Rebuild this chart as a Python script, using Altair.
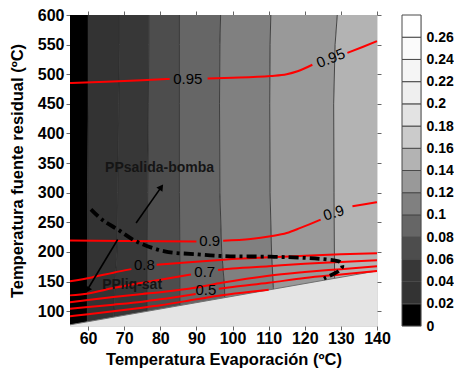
import math
import altair as alt
import pandas as pd

FONT = "Liberation Sans"
W, H = 307, 311
T_MIN, T_MAX = 55, 140
V_MIN, V_MAX = 75, 600

x_tick_values = [60, 70, 80, 90, 100, 110, 120, 130, 140]
y_tick_values = [100, 150, 200, 250, 300, 350, 400, 450, 500, 550, 600]

# ---- filled contour bands (boundary Tevap at each source-temperature level)
bound_levels = [75, 140, 200, 300, 450, 550, 600]
b1 = [59.8, 59.8, 59.9, 59.9, 60.0, 60.0, 60.0]
b2 = [67.0, 67.4, 68.0, 68.2, 68.5, 68.7, 68.7]
b3 = [76.4, 76.4, 76.4, 76.5, 76.7, 76.8, 76.8]
b4 = [85.4, 85.4, 85.4, 85.3, 85.3, 85.3, 85.3]
b5 = [97.9, 97.8, 97.0, 96.5, 96.4, 96.5, 96.7]
b6 = [111.4, 111.3, 110.8, 110.4, 110.3, 110.4, 110.6]
b7 = [128.3, 128.3, 128.2, 128.1, 128.0, 128.4, 129.0]
band_colors = ["#000000", "#333333", "#373737", "#4d4d4d", "#666666",
               "#808080", "#999999", "#b3b3b3"]

# ---- colorbar
cbar_edges = [0, 0.02, 0.04, 0.06, 0.08, 0.1, 0.12, 0.14, 0.16, 0.18,
              0.2, 0.22, 0.24, 0.26, 0.28]
cbar_labels = [0, 0.02, 0.04, 0.06, 0.08, 0.1, 0.12, 0.14, 0.16, 0.18,
               0.2, 0.22, 0.24, 0.26]
cbar_colors = ["#000000", "#333333", "#373737", "#4d4d4d", "#666666",
               "#808080", "#999999", "#b3b3b3", "#cbcbcb", "#e3e3e3",
               "#efefef", "#f5f5f5", "#fbfbfb", "#ffffff"]

# ---- infeasible (hatched) region boundary
hatch_T = [55, 140]
hatch_V = [77, 168]

# ---- efficiency iso-lines (segments separated where labels sit)
eff_lines = {
    "0.95": ([[55, 65, 75, 82.6], [93.1, 100, 110.5, 115, 118, 122.1], [131.8, 136, 140]],
             [[485, 487.5, 490, 492], [493, 494, 497, 500, 505, 516], [536, 546, 556]]),
    "0.9": ([[55, 70, 90], [97.4, 105, 110.5, 115, 118.8, 124.4], [133.2, 137, 140]],
            [[219.3, 218.5, 217.5], [219, 222, 226.6, 232, 240.6, 254.7], [277, 281, 284]]),
    "0.8": ([[55, 61, 67, 72], [79, 88, 97.5, 110, 120, 130, 140]],
            [[150.6, 157, 165, 171], [178.5, 182.7, 187, 191, 193.5, 196, 198]]),
    "0.7": ([[55, 60, 67, 75, 80, 88.5], [96, 100, 110, 120, 130, 140]],
            [[126.7, 130, 139, 148, 153, 162], [169.5, 172, 176, 180, 183, 186]]),
    "0.6": ([[55, 60, 67, 75, 80, 90, 97, 110, 120, 130, 140]],
            [[115.2, 119, 124, 129, 132, 140, 148, 160, 166, 171, 176]]),
    "0.5": ([[55, 60, 67, 75, 80, 89.8], [96.2, 100, 110, 120, 130, 140]],
            [[104, 107, 111, 116, 120, 129], [138, 141, 148, 156, 162, 168]]),
    "0.4": ([[55, 60, 67, 75, 80, 90, 97, 105, 110]],
            [[91.6, 95, 100, 106, 110, 120, 127, 133, 136]]),
}

# ---- pinch-point boundary (dash-dot)
pp_T = [60.8, 64, 68.2, 73.3, 81.2, 90.5, 97.5, 110.5, 120, 124.4, 128, 129.8, 130.4, 129.8, 128, 125.3]
pp_V = [272, 254, 238, 218, 201, 196, 193, 192, 190, 188.3, 186, 183, 176, 170, 163, 155]

# ---- arrows (start T, start V, end T, end V)
arrows = [("salida", 73.3, 249, 80.9, 315), ("liq", 68.2, 221, 59.2, 130)]

# ---- text labels
contour_label_text = ["0.95", "0.95", "0.9", "0.9", "0.8", "0.7", "0.5"]
contour_label_T = [87.6, 127.2, 93.7, 128.0, 75.6, 92.3, 92.6]
contour_label_V = [492, 527, 218, 266, 178, 166, 135]
contour_label_angle = [0, 338, 0, 342, 0, 0, 0]

annot_text = ["PPsalida-bomba", "PPliq-sat"]
annot_T = [79.8, 72.2]
annot_V = [341, 144]

# ================= build tables =================
xs = alt.Scale(domain=[T_MIN, T_MAX], nice=False, zero=False)
ys = alt.Scale(domain=[V_MIN, V_MAX], nice=False, zero=False)
sx = W / (T_MAX - T_MIN)
sy = H / (V_MAX - V_MIN)

bounds_all = [b1, b2, b3, b4, b5, b6, b7]
band_rows = []
for i in range(8):
    left = [T_MIN] * len(bound_levels) if i == 0 else bounds_all[i - 1]
    right = [T_MAX] * len(bound_levels) if i == 7 else bounds_all[i]
    for v, l, r in zip(bound_levels, left, right):
        band_rows.append({"band": f"b{i}", "V": v, "xl": l, "xr": r})
band_df = pd.DataFrame(band_rows)

bline_rows = []
for k, b in enumerate(bounds_all):
    for j, (v, t) in enumerate(zip(bound_levels, b)):
        bline_rows.append({"bid": k, "V": v, "T": t, "o": j})
bline_df = pd.DataFrame(bline_rows)

hatch_df = pd.DataFrame({"T": hatch_T, "V": hatch_V, "V0": [V_MIN, V_MIN]})

red_rows = []
for lev, (Ts, Vs) in eff_lines.items():
    for s, (tt, vv) in enumerate(zip(Ts, Vs)):
        for j, (t, v) in enumerate(zip(tt, vv)):
            red_rows.append({"seg": f"{lev}-{s}", "T": t, "V": v, "o": j})
red_df = pd.DataFrame(red_rows)

pp_df = pd.DataFrame({"T": pp_T, "V": pp_V, "o": list(range(len(pp_T)))})

arrow_rows, head_rows = [], []
for name, t0, v0, t1, v1 in arrows:
    dxp = (t1 - t0) * sx
    dyp = -(v1 - v0) * sy
    L = math.hypot(dxp, dyp)
    ux, uy = dxp / L, dyp / L
    ang = math.degrees(math.atan2(dxp, -dyp)) % 360
    tc = t1 - 4 * ux / sx
    vc = v1 + 4 * uy / sy
    arrow_rows.append({"a": name, "T": t0, "V": v0, "o": 0})
    arrow_rows.append({"a": name, "T": tc, "V": vc, "o": 1})
    head_rows.append({"T": tc, "V": vc, "ang": ang})
arrow_df = pd.DataFrame(arrow_rows)
head_df = pd.DataFrame(head_rows)

clab_df = pd.DataFrame({"text": contour_label_text, "T": contour_label_T,
                        "V": contour_label_V, "ang": contour_label_angle})
annot_df = pd.DataFrame({"text": annot_text, "T": annot_T, "V": annot_V})

cb_df = pd.DataFrame({"lo": cbar_edges[:-1], "hi": cbar_edges[1:], "col": cbar_colors})

# ================= axes =================
bottom_axis = alt.Axis(orient="bottom", values=x_tick_values, title="Temperatura Evaporación  (ºC)",
                       labelFont=FONT, labelFontSize=16, labelFontWeight="bold", labelColor="black",
                       titleFont=FONT, titleFontSize=16.5, titleFontWeight="bold", titleColor="black",
                       tickSize=4, tickColor="#666", domain=False, grid=False, labelPadding=0,
                       titlePadding=5, labelFlush=False)
left_axis = alt.Axis(orient="left", values=y_tick_values, title="Temperatura fuente residual (ºC)",
                     labelFont=FONT, labelFontSize=16, labelFontWeight="bold", labelColor="black",
                     titleFont=FONT, titleFontSize=16.5, titleFontWeight="bold", titleColor="black",
                     tickSize=4, tickColor="#666", domain=False, grid=False, labelPadding=2,
                     titlePadding=12, labelFlush=False)
top_axis = alt.Axis(orient="top", values=x_tick_values, labels=False, title=None, tickSize=4,
                    tickColor="#666", domain=False, grid=False)
right_axis = alt.Axis(orient="right", values=y_tick_values, labels=False, title=None, tickSize=4,
                      tickColor="#666", domain=False, grid=False)

# ================= layers =================
bands = alt.Chart(band_df).mark_area(orient="horizontal").encode(
    y=alt.Y("V:Q", scale=ys, axis=left_axis),
    x=alt.X("xl:Q", scale=xs, axis=bottom_axis, stack=None),
    x2="xr:Q",
    color=alt.Color("band:N", scale=alt.Scale(domain=[f"b{i}" for i in range(8)], range=band_colors),
                    legend=None),
)

blines = alt.Chart(bline_df).mark_line(color="#262626", strokeWidth=0.8).encode(
    x=alt.X("T:Q", scale=xs, axis=None),
    y=alt.Y("V:Q", scale=ys, axis=None),
    detail="bid:N",
    order="o:Q",
)

hatch_area = alt.Chart(hatch_df).mark_area(color="#e4e4e4", opacity=1).encode(
    x=alt.X("T:Q", scale=xs, axis=None),
    y=alt.Y("V:Q", scale=ys, axis=None, stack=None),
    y2="V0:Q",
)

hatch_line = alt.Chart(hatch_df).mark_line(color="#707070", strokeWidth=1).encode(
    x=alt.X("T:Q", scale=xs, axis=top_axis),
    y=alt.Y("V:Q", scale=ys, axis=right_axis),
)

reds = alt.Chart(red_df).mark_line(color="#ff0000", strokeWidth=2, interpolate="monotone").encode(
    x=alt.X("T:Q", scale=xs, axis=None),
    y=alt.Y("V:Q", scale=ys, axis=None),
    detail="seg:N",
    order="o:Q",
)

ppline = alt.Chart(pp_df).mark_line(color="black", strokeWidth=3.8, strokeDash=[10, 4, 3, 4],
                                    interpolate="catmull-rom").encode(
    x=alt.X("T:Q", scale=xs, axis=None),
    y=alt.Y("V:Q", scale=ys, axis=None),
    order="o:Q",
)

arrow_lines = alt.Chart(arrow_df).mark_line(color="black", strokeWidth=1.6).encode(
    x=alt.X("T:Q", scale=xs, axis=None),
    y=alt.Y("V:Q", scale=ys, axis=None),
    detail="a:N",
    order="o:Q",
)

arrow_heads = alt.Chart(head_df).mark_point(shape="triangle-up", filled=True, size=55,
                                            color="black", opacity=1).encode(
    x=alt.X("T:Q", scale=xs, axis=None),
    y=alt.Y("V:Q", scale=ys, axis=None),
    angle=alt.Angle("ang:Q", scale=None),
)

clabels = alt.Chart(clab_df).mark_text(font=FONT, fontSize=15, color="black").encode(
    x=alt.X("T:Q", scale=xs, axis=None),
    y=alt.Y("V:Q", scale=ys, axis=None),
    text="text:N",
    angle=alt.Angle("ang:Q", scale=None),
)

annots = alt.Chart(annot_df).mark_text(font=FONT, fontSize=14, fontWeight="bold", color="#151515").encode(
    x=alt.X("T:Q", scale=xs, axis=None),
    y=alt.Y("V:Q", scale=ys, axis=None),
    text="text:N",
)

main = alt.layer(bands, blines, hatch_area, hatch_line, reds, ppline, arrow_lines, arrow_heads,
                 clabels, annots).resolve_axis(x="independent", y="independent").properties(
    width=W, height=H)

cbar = alt.Chart(cb_df).mark_rect(stroke="#4a4a4a", strokeWidth=1).encode(
    y=alt.Y("lo:Q", scale=alt.Scale(domain=[0, 0.28], nice=False, zero=False),
            axis=alt.Axis(orient="right", values=cbar_labels, format=".2~f", ticks=False, domain=False,
                          grid=False, title=None, labelPadding=5, labelFont=FONT, labelFontSize=14,
                          labelFontWeight="bold", labelColor="black", labelFlush=False)),
    y2="hi:Q",
    color=alt.Color("col:N", scale=None),
).properties(width=19, height=H)

chart = alt.hconcat(main, cbar, spacing=25, bounds="flush").properties(
    padding={"left": 8, "top": 6, "right": 0, "bottom": 2}
).configure_view(stroke="#8a8a8a", strokeWidth=1).configure(background="white")

chart.save("out.html", embed_options={"renderer": "svg", "actions": False})
